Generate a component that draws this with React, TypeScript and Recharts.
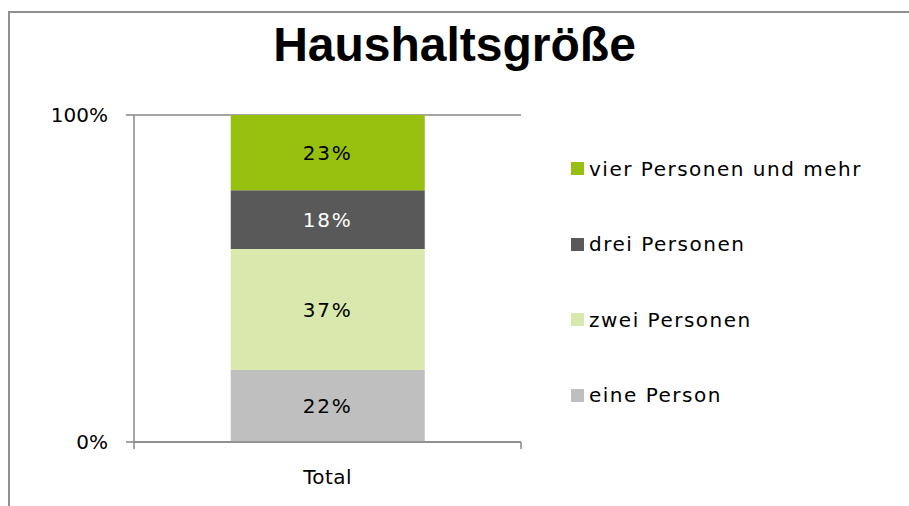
import { BarChart, Bar, XAxis, YAxis, CartesianGrid, Legend, LabelList } from "recharts"

const categories = ["Total"]
const seriesNames = ["eine Person", "zwei Personen", "drei Personen", "vier Personen und mehr"]
const seriesKeys = ["eine", "zwei", "drei", "vier"]
const seriesColors = ["#bfbfbf", "#d9e8ac", "#595959", "#97bf0d"]
const labelColors = ["#000000", "#000000", "#ffffff", "#000000"]
const eineValues = [22]
const zweiValues = [37]
const dreiValues = [18]
const vierValues = [23]
const yTicks = [0, 100]

const data = categories.map((name, i) => ({
  name,
  eine: eineValues[i],
  zwei: zweiValues[i],
  drei: dreiValues[i],
  vier: vierValues[i],
}))

const font = "'DejaVu Sans', sans-serif"
const lineColor = "#898989"
const X_TICK_SIZE = 6
const X_TICK_MARGIN = 22

// category label plus the small marks at both band edges (Excel style)
function CategoryTick(props: any) {
  const { x, y, payload } = props
  const half = payload.offset || 0
  const axisY = y - X_TICK_SIZE - X_TICK_MARGIN
  return (
    <g>
      <line x1={x - half} x2={x - half} y1={axisY} y2={axisY + 7} stroke={lineColor} strokeWidth={1.5} />
      <line x1={x + half} x2={x + half} y1={axisY} y2={axisY + 7} stroke={lineColor} strokeWidth={1.5} />
      <text x={x} y={y} dy="0.71em" textAnchor="middle" fill="#000" fontSize={20} letterSpacing={0.4}>
        {payload.value}
      </text>
    </g>
  )
}

function LegendList(props: any) {
  // top to bottom: last stacked series first, like the stack itself
  const items = [...(props.payload || [])].sort(
    (a: any, b: any) => seriesNames.indexOf(b.value) - seriesNames.indexOf(a.value)
  )
  return (
    <div style={{ fontFamily: font, fontSize: 20, letterSpacing: 1.5, color: "#000" }}>
      {items.map((p: any) => (
        <div key={p.value} style={{ height: 75.5, display: "flex", alignItems: "center" }}>
          <div style={{ width: 13, height: 13, background: p.color, marginRight: 5 }}></div>
          <span>{p.value}</span>
        </div>
      ))}
    </div>
  )
}

export default function App() {
  return (
    <div style={{ position: "fixed", left: 0, top: 0, width: 909, height: 506, background: "#fff", overflow: "hidden" }}>
      <div
        style={{
          position: "absolute",
          left: 8,
          top: 11,
          width: 1000,
          height: 600,
          borderLeft: "2px solid #8f8f8f",
          borderTop: "2px solid #8f8f8f",
        }}
      ></div>
      <div
        style={{
          position: "absolute",
          left: 0,
          top: 21,
          width: 909,
          textAlign: "center",
          fontFamily: "'Liberation Sans', Arial, sans-serif",
          fontWeight: "bold",
          fontSize: 48,
          lineHeight: "48px",
          color: "#000",
        }}
      >
        Haushaltsgröße
      </div>
      <div style={{ position: "absolute", left: 0, top: 0 }}>
        <BarChart
          width={909}
          height={506}
          data={data}
          margin={{ top: 115, right: 388, bottom: 24, left: 0 }}
          barCategoryGap="25%"
          style={{ fontFamily: font }}
        >
          <CartesianGrid horizontal vertical={false} stroke={lineColor} strokeWidth={1.5} />
          <XAxis
            dataKey="name"
            height={40}
            axisLine={{ stroke: lineColor, strokeWidth: 1.5 }}
            tickLine={false}
            tickSize={X_TICK_SIZE}
            tickMargin={X_TICK_MARGIN}
            tick={<CategoryTick />}
          />
          <YAxis
            type="number"
            domain={[0, 100]}
            ticks={yTicks}
            width={134}
            tickFormatter={(v: number) => `${v}%`}
            axisLine={{ stroke: lineColor, strokeWidth: 1.5 }}
            tickLine={{ stroke: lineColor, strokeWidth: 1.5 }}
            tickSize={8}
            tickMargin={18}
            tick={{ fill: "#000", fontSize: 20 }}
          />
          <Legend
            layout="horizontal"
            verticalAlign="middle"
            align="center"
            content={<LegendList />}
            wrapperStyle={{ position: "absolute", left: 571, top: 131, width: 320 }}
          />
          {seriesKeys.map((k, i) => (
            <Bar
              key={k}
              dataKey={k}
              name={seriesNames[i]}
              stackId="a"
              fill={seriesColors[i]}
              isAnimationActive={false}
            >
              <LabelList
                dataKey={k}
                position="center"
                formatter={(v: any) => `${v}%`}
                fill={labelColors[i]}
                style={{ fontSize: 20, letterSpacing: 1.8, fontFamily: font }}
              />
            </Bar>
          ))}
        </BarChart>
      </div>
    </div>
  )
}
